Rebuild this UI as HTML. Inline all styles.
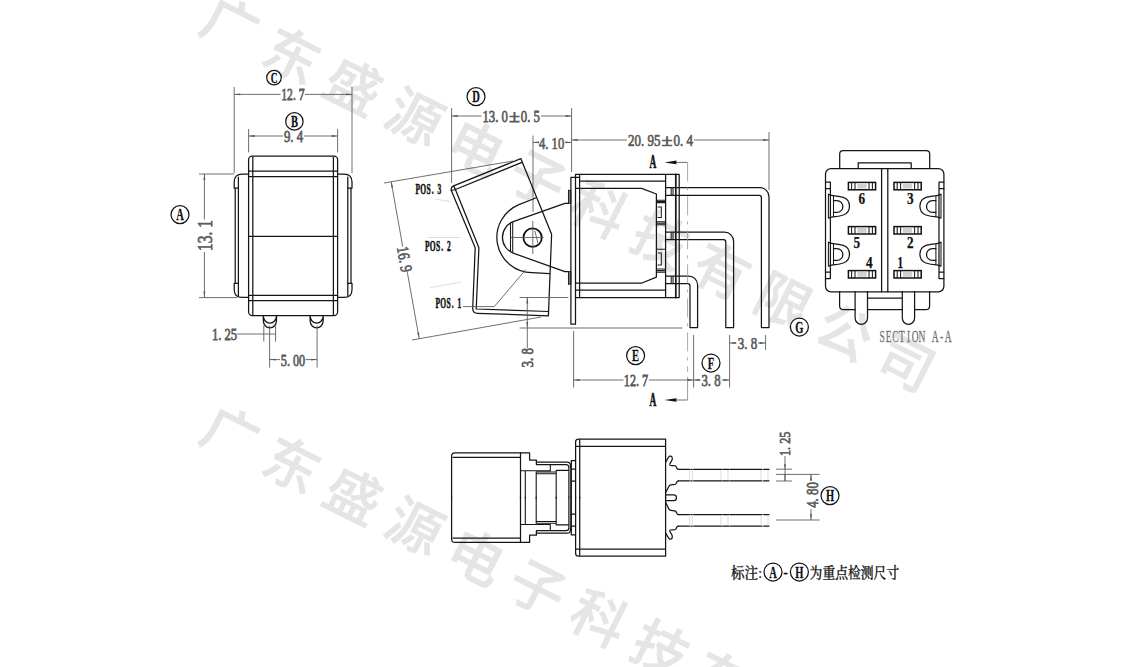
<!DOCTYPE html>
<html lang="zh">
<head>
<meta charset="utf-8">
<title>Rocker switch drawing</title>
<style>
html,body{margin:0;padding:0;background:#fff;}
body{width:1135px;height:667px;overflow:hidden;position:relative;}
svg{position:absolute;left:0;top:0;display:block;}
.o{stroke:#151515;stroke-width:1.25;fill:none;stroke-linecap:round;stroke-linejoin:round;}
.o2{stroke:#1a1a1a;stroke-width:1.05;fill:none;}
.d{stroke:#555;stroke-width:.85;fill:none;}
.f{stroke:#d4d4d4;stroke-width:.8;fill:none;}
.t{font-family:"Liberation Serif","Noto Serif CJK SC",serif;fill:#5c5c5c;stroke:#5c5c5c;stroke-width:.75;}
.b{font-family:"Liberation Serif","Noto Serif CJK SC",serif;fill:#111;font-weight:bold;stroke:#111;stroke-width:.55;}
.c{stroke:#151515;stroke-width:1.25;fill:#fff;}
.cl{font-family:"Liberation Serif",serif;fill:#111;font-weight:bold;text-anchor:middle;stroke:#111;stroke-width:.3;}
.wm{font-family:"Noto Sans CJK SC","WenQuanYi Zen Hei",sans-serif;fill:#e5e5e5;font-size:55px;font-weight:500;letter-spacing:13.7px;stroke:#e5e5e5;stroke-width:.6;}
.ah{fill:#555;stroke:none;}
.n{font-family:"Liberation Serif","Noto Serif CJK SC",serif;fill:#111;font-weight:700;stroke:#111;stroke-width:.25;}
</style>
</head>
<body>
<svg width="1135" height="667" viewBox="0 0 1135 667">
<rect width="1135" height="667" fill="#fff"/>
<g id="wm">
<text class="wm" transform="translate(196.8,30.8) rotate(26.57)">广东盛源电子科技有限公司</text>
<text class="wm" transform="translate(196.8,440) rotate(26.57)">广东盛源电子科技有限公司</text>
</g>

<g id="v1">
<rect class="o" x="248.6" y="156.1" width="89" height="159.4" rx="3.5" ry="3.5"/>
<path class="o" d="M252.8,157 V315 M333.4,157 V315 M248.6,171.2 H337.6 M248.6,176.6 H337.6 M248.6,236.4 H337.6 M248.6,295.4 H337.6 M248.6,300.7 H337.6"/>
<g><path class="o" d="M248.6,174 H242.2 Q234.2,174 234.2,182 V188 H238.4"/>
<path class="o" d="M235.2,188 V283.3 M238.4,177 V296"/>
<path class="o" d="M238.4,283.3 H234.2 V289.4 Q234.2,297.4 242.2,297.4 H248.6"/></g>
<g transform="translate(586.2,0) scale(-1,1)"><path class="o" d="M248.6,174 H242.2 Q234.2,174 234.2,182 V188 H238.4"/>
<path class="o" d="M235.2,188 V283.3 M238.4,177 V296"/>
<path class="o" d="M238.4,283.3 H234.2 V289.4 Q234.2,297.4 242.2,297.4 H248.6"/></g>
<path class="o" d="M263.3,315.6 V320.6 A6.6,7.3 0 0 0 276.5,320.6 V315.6 M263.3,315.8 A6.6,7.3 0 0 0 276.5,315.8"/>
<path class="o" d="M310.1,315.6 V320.6 A6.55,7.3 0 0 0 323.2,320.6 V315.6 M310.1,315.8 A6.55,7.3 0 0 0 323.2,315.8"/>
<path class="d" d="M234.2,87 V173 M352,87 V173 M248.6,129 V152.4 M337.6,129 V152.4"/>
<path class="d" d="M234.2,94.4 H280.5 M305,94.4 H352"/>
<path class="ah" d="M234.20,94.40 L240.20,93.45 L240.20,95.35 Z"/>
<path class="ah" d="M352.00,94.40 L346.00,95.35 L346.00,93.45 Z"/>
<g transform="translate(281.20,100.20)">
<text class="t" font-size="16" transform="scale(0.7312,1)" x="0.00 8.00 16.00 24.00">12.7</text>
</g>
<path class="d" d="M248.6,136 H283 M304,136 H337.6"/>
<path class="ah" d="M248.60,136.00 L254.60,135.05 L254.60,136.95 Z"/>
<path class="ah" d="M337.60,136.00 L331.60,136.95 L331.60,135.05 Z"/>
<g transform="translate(283.90,142.30)">
<text class="t" font-size="16" transform="scale(0.8000,1)" x="0.00 8.00 16.00">9.4</text>
</g>
<path class="d" d="M199,174 H234 M199,297.6 H237"/>
<path class="d" d="M204.4,174 V219.5 M204.4,252 V297.6"/>
<path class="ah" d="M204.40,174.00 L205.35,180.00 L203.45,180.00 Z"/>
<path class="ah" d="M204.40,297.60 L203.45,291.60 L205.35,291.60 Z"/>
<g transform="translate(212.30,235.60) rotate(-90) translate(-15.50,0)">
<text class="t" font-size="22" transform="scale(0.7045,1)" x="0.00 11.00 22.00 33.00">13.1</text>
</g>
<path class="d" d="M263.8,325.6 V341.6 M275.6,325.6 V341.6 M237,334 H275.6"/>
<g transform="translate(211.90,340.00)">
<text class="t" font-size="16" transform="scale(0.7875,1)" x="0.00 8.00 16.00 24.00">1.25</text>
</g>
<path class="d" d="M269.6,325.6 V367.6 M317.1,325.6 V367.6"/>
<path class="d" d="M269.6,359.6 H280 M305.5,359.6 H317.1"/>
<path class="ah" d="M269.60,359.60 L275.60,358.65 L275.60,360.55 Z"/>
<path class="ah" d="M317.10,359.60 L311.10,360.55 L311.10,358.65 Z"/>
<g transform="translate(280.80,365.70)">
<text class="t" font-size="16" transform="scale(0.7625,1)" x="0.00 8.00 16.00 24.00">5.00</text>
</g>
<circle class="c" cx="274" cy="77.6" r="7.3"/>
<text class="cl" font-size="15.5" transform="translate(274,82.7) scale(.6,1)">C</text>
<circle class="c" cx="294.4" cy="121.4" r="8.7"/>
<text class="cl" font-size="17.5" transform="translate(294.4,127.1) scale(.6,1)">B</text>
<circle class="c" cx="180" cy="214.6" r="9"/>
<text class="cl" font-size="17.5" transform="translate(180,220.3) scale(.6,1)">A</text>
</g>
<g id="v2">
<path class="d" d="M451.6,108 V183 M571.6,108 V172 M533,135.6 V212 M769,132 V190"/>
<path class="d" d="M451.6,116 H481.5 M541,116 H571.6"/>
<path class="ah" d="M451.60,116.00 L457.60,115.05 L457.60,116.95 Z"/>
<path class="ah" d="M571.60,116.00 L565.60,116.95 L565.60,115.05 Z"/>
<g transform="translate(482.40,122.30)">
<text class="t" font-size="17" transform="scale(0.7529,1)" x="0.00 8.50 17.00 25.50 51.00 59.50 68.00">13.00.5</text>
<text class="t" font-size="17" transform="translate(26.56,0) scale(1.1658,1)">±</text>
</g>
<path class="d" d="M533,142.4 H538.5 M565,142.4 H571.6"/>
<path class="ah" d="M533.00,142.40 L539.00,141.45 L539.00,143.35 Z"/>
<path class="ah" d="M571.60,142.40 L565.60,143.35 L565.60,141.45 Z"/>
<g transform="translate(539.00,149.40)">
<text class="t" font-size="17" transform="scale(0.7412,1)" x="0.00 8.50 17.00 25.50">4.10</text>
</g>
<path class="d" d="M571.6,140 H627 M694,140 H769"/>
<path class="ah" d="M571.60,140.00 L577.60,139.05 L577.60,140.95 Z"/>
<path class="ah" d="M769.00,140.00 L763.00,140.95 L763.00,139.05 Z"/>
<g transform="translate(628.00,146.20)">
<text class="t" font-size="17" transform="scale(0.7647,1)" x="0.00 8.50 17.00 25.50 34.00 59.50 68.00 76.50">20.950.4</text>
<text class="t" font-size="17" transform="translate(33.48,0) scale(1.1840,1)">±</text>
</g>
<path class="d" d="M384,183 L513,161 M412,340 L541,317"/>
<path class="d" d="M391.2,181.8 L402.7,246.5"/>
<path class="ah" d="M391.20,181.80 L393.20,187.54 L391.33,187.87 Z"/>
<path class="d" d="M407.3,272.2 L419.2,338.6"/>
<path class="ah" d="M419.20,338.60 L417.22,332.86 L419.09,332.53 Z"/>
<g transform="translate(399.20,260.20) rotate(80) translate(-12.80,0)">
<text class="t" font-size="16.5" transform="scale(0.7758,1)" x="0.00 8.25 16.50 24.75">16.9</text>
</g>
<path class="o" d="M451.3,190.5 Q450.6,187.2 453.6,185.9 L520.8,158.6 L551.6,234.3 L548.4,315.9 L477.4,313.3 Q472.9,313.1 472.7,308.7 L475.2,247.8 Z"/>
<path class="o" d="M455.4,189.5 L522,162.3 M451.3,190.5 L455.4,189.5 L453.6,185.9 M455.4,189.5 L478.9,247.8 L476.2,309 L548.5,311.5"/>
<path class="o" d="M535.7,198 L518.9,204.7 A35.3,35.3 0 0 0 532,272.7 L549.4,273.7"/>
<path class="o" d="M568.6,190.3 V203.3 H564.9 L513.9,221.4 A16.9,16.9 0 0 0 513.9,253.4 L564.9,271.6 H568.6 V284.2"/>
<path d="M568.6,190.3 H570.9 V203.3 H568.6 Z M568.6,271.6 H570.9 V284.2 H568.6 Z" fill="#888" stroke="#151515" stroke-width=".8"/>
<path class="o2" d="M510.5,223 V251.8 M512.7,221.9 V252.9"/>
<circle cx="532.6" cy="237.6" r="9.2" fill="none" stroke="#111" stroke-width="1.8"/>
<path class="d" d="M510.5,237.5 H543.7 M532.8,221 V254 M534.8,230.7 L537.9,243"/>
<text class="b" font-size="15" text-anchor="middle" transform="translate(415.10,193.50) scale(0.500,1)" x="5.40 16.20 27.00 35.42 48.60">POS.3</text>
<text class="b" font-size="15" text-anchor="middle" transform="translate(424.50,250.90) scale(0.500,1)" x="5.40 16.20 27.00 35.42 48.60">POS.2</text>
<text class="b" font-size="15" text-anchor="middle" transform="translate(435.10,307.90) scale(0.500,1)" x="5.40 16.20 27.00 35.42 48.60">POS.1</text>
<path class="f" d="M435,199 L450,201.6 M428,237.5 H460 M430,287.6 L461,282.2"/>
<path class="d" d="M463,306.6 H494.3 L525.7,269.7"/>
<path class="d" d="M519.6,297.5 H568.3 M519.6,328 H682.4"/>
<path class="d" d="M527.3,297.5 V328"/>
<path class="ah" d="M527.30,297.50 L528.25,303.50 L526.35,303.50 Z"/>
<path class="ah" d="M527.30,328.00 L526.35,322.00 L528.25,322.00 Z"/>
<path class="d" d="M527.3,328 V348.2"/>
<g transform="translate(533.40,357.80) rotate(-90) translate(-9.75,0)">
<text class="t" font-size="16.5" transform="scale(0.7879,1)" x="0.00 8.25 16.50">3.8</text>
</g>
<path class="o" d="M579.7,177.3 H570.9 V324.2 H575.5 V174.3 H679.2 V297.6 H575.5"/>
<path class="o" d="M579.6,174.3 V297.6 M579.6,181 H665.6 M575.5,188.4 H641.6 L656.4,194 V277.2 L642,283 H575.5 M575.5,290.2 H665.6"/>
<path class="o" d="M665.6,174.3 V297.6"/>
<path class="o" stroke-width="1.7" d="M675.8,174.3 V297.6" style="stroke-width:1.7"/>
<path class="o" d="M665.6,187.7 H760 A9,9 0 0 1 769,196.7 V327.6 H761.4 V197.7 A2.3,2.3 0 0 0 759.1,195.4 H665.6"/>
<path class="o" d="M665.6,232.2 H724.6 A9,9 0 0 1 733.6,241.2 V327.6 H725.8 V242 A2.3,2.3 0 0 0 723.5,239.7 H665.6"/>
<path class="o" d="M665.6,276 H688.6 A9,9 0 0 1 697.6,285 V327.6 H690 V286 A2.3,2.3 0 0 0 687.7,283.7 H665.6"/>
<path class="o2" d="M671.2,187.7 V195.2 M673,187.7 V195.2 M671.2,232.2 V239.6 M673,232.2 V239.6 M671.2,276 V283.6 M673,276 V283.6"/>
<path class="o2" d="M656.4,200.2 H665.6 M656.4,201.4 H665.6 M656.4,202.6 H665.6 M656.4,221.8 H665.6 M656.4,223.3 H665.6 M656.4,224.8 H665.6 M657.6,207 H661.3 V217.4 H657.6"/>
<path class="o2" d="M656.4,249.2 H665.6 M656.4,269 H665.6 M656.4,270.6 H665.6 M656.4,272.2 H665.6 M657.6,253 H661.3 V265 H657.6"/>
<path class="d" d="M676,162.4 H687.6 M676,400 H687.6"/>
<path class="d" d="M687.6,162.4 V372" stroke-dasharray="19 6 3 6" style="stroke:#999"/>
<path class="d" d="M687.6,377 V400" style="stroke:#888"/>
<path d="M664.4,162.4 L676.4,160.6 V164.2 Z M664.4,400 L676.4,398.2 V401.8 Z" fill="#111"/>
<text class="b" font-size="18" x="649.40" y="168.40" textLength="6.80" lengthAdjust="spacingAndGlyphs">A</text>
<text class="b" font-size="18" x="649.40" y="406.00" textLength="6.80" lengthAdjust="spacingAndGlyphs">A</text>
<path class="d" d="M573.6,331 V387.6 M693.6,335 V387.6 M729.6,335 V387.6 M765.6,335 V350"/>
<path class="d" d="M573.6,380 H623.5 M649,380 H693.6"/>
<path class="ah" d="M573.60,380.00 L579.60,379.05 L579.60,380.95 Z"/>
<path class="ah" d="M693.60,380.00 L687.60,380.95 L687.60,379.05 Z"/>
<g transform="translate(623.80,386.00)">
<text class="t" font-size="17" transform="scale(0.7176,1)" x="0.00 8.50 17.00 25.50">12.7</text>
</g>
<path class="d" d="M693.6,380 H700.5 M721.5,380 H729.6"/>
<path class="ah" d="M693.60,380.00 L699.60,379.05 L699.60,380.95 Z"/>
<path class="ah" d="M729.60,380.00 L723.60,380.95 L723.60,379.05 Z"/>
<g transform="translate(701.40,386.00)">
<text class="t" font-size="17" transform="scale(0.7529,1)" x="0.00 8.50 17.00">3.8</text>
</g>
<path class="d" d="M729.6,343 H736.5 M758,343 H765.6"/>
<path class="ah" d="M729.60,343.00 L735.60,342.05 L735.60,343.95 Z"/>
<path class="ah" d="M765.60,343.00 L759.60,343.95 L759.60,342.05 Z"/>
<g transform="translate(737.65,349.00)">
<text class="t" font-size="17" transform="scale(0.7647,1)" x="0.00 8.50 17.00">3.8</text>
</g>
<circle class="c" cx="476" cy="96.6" r="9"/>
<text class="cl" font-size="17.5" transform="translate(476,102.3) scale(.6,1)">D</text>
<circle class="c" cx="635.6" cy="355.6" r="9"/>
<text class="cl" font-size="17.5" transform="translate(635.6,361.3) scale(.6,1)">E</text>
<circle class="c" cx="711" cy="363" r="9"/>
<text class="cl" font-size="17.5" transform="translate(711,368.7) scale(.6,1)">F</text>
<circle class="c" cx="799.4" cy="327" r="9"/>
<text class="cl" font-size="17.5" transform="translate(799.4,332.7) scale(.6,1)">G</text>
</g>
<g id="v3">
<path class="o" d="M839.7,168.6 V154 Q839.7,150.5 843.2,150.5 H926.2 Q929.7,150.5 929.7,154 V168.6 M858.2,168.6 V162.8 H911.2 V168.6"/>
<rect class="o" x="825.5" y="168.6" width="118.4" height="123.2" rx="5.5" ry="5.5"/>
<path class="o" d="M881.6,168.6 V291.8 M887.8,168.6 V291.8"/>
<path class="o" d="M839.6,291.7 V305.7 Q839.6,309.7 843.6,309.7 H855.1 M867.5,309.7 H902.3 M914.6,309.7 H925.6 Q929.6,309.7 929.6,305.7 V291.7"/>
<path class="o" d="M855.1,291.7 V318.1 A6.2,6.2 0 0 0 867.5,318.1 V291.7 M902.3,291.7 V318.1 A6.15,6.2 0 0 0 914.6,318.1 V291.7 M867.5,298 H902.3"/>
<g><path class="o" d="M830.4,182 V278.6 M825.5,182 H830.4 M825.5,188.7 H830.4 M825.5,272 H830.4 M825.5,278.6 H830.4"/>
<path class="o2" d="M828.4,194 V218 M833.5,195.6 V216.8 M828.4,242 V266 M833.5,243.6 V264.8"/>
<path class="o" d="M828.6,194.2 Q830,195.2 833,195.6 Q839,196 843.4,197.4 A9.4,9.4 0 0 1 843.4,215 Q839,216.4 833,216.8 Q830,217.2 828.6,218.2 M833.5,200.6 H837 A5.9,5.9 0 0 1 837,212.4 H833.5"/>
<path class="o" d="M828.6,242.2 Q830,243.2 833,243.6 Q839,244 843.4,245.4 A9.4,9.4 0 0 1 843.4,263 Q839,264.4 833,264.8 Q830,265.2 828.6,266.2 M833.5,248.6 H837 A5.9,5.9 0 0 1 837,260.4 H833.5"/>
</g>
<g transform="translate(1769.4,0) scale(-1,1)"><path class="o" d="M830.4,182 V278.6 M825.5,182 H830.4 M825.5,188.7 H830.4 M825.5,272 H830.4 M825.5,278.6 H830.4"/>
<path class="o2" d="M828.4,194 V218 M833.5,195.6 V216.8 M828.4,242 V266 M833.5,243.6 V264.8"/>
<path class="o" d="M828.6,194.2 Q830,195.2 833,195.6 Q839,196 843.4,197.4 A9.4,9.4 0 0 1 843.4,215 Q839,216.4 833,216.8 Q830,217.2 828.6,218.2 M833.5,200.6 H837 A5.9,5.9 0 0 1 837,212.4 H833.5"/>
<path class="o" d="M828.6,242.2 Q830,243.2 833,243.6 Q839,244 843.4,245.4 A9.4,9.4 0 0 1 843.4,263 Q839,264.4 833,264.8 Q830,265.2 828.6,266.2 M833.5,248.6 H837 A5.9,5.9 0 0 1 837,260.4 H833.5"/>
</g>
<rect x="848.4" y="182.4" width="27.2" height="7.4" fill="#fff" stroke="#111" stroke-width="1.5"/>
<rect x="857.4" y="183.6" width="9.2" height="5" fill="#d0d0d0" stroke="none"/>
<path class="o2" d="M851.6,182.4 v7.4 M855,182.4 v7.4 M869,182.4 v7.4 M872.4,182.4 v7.4"/>
<rect x="894" y="182.4" width="27.2" height="7.4" fill="#fff" stroke="#111" stroke-width="1.5"/>
<rect x="903" y="183.6" width="9.2" height="5" fill="#d0d0d0" stroke="none"/>
<path class="o2" d="M897.2,182.4 v7.4 M900.6,182.4 v7.4 M914.6,182.4 v7.4 M918,182.4 v7.4"/>
<rect x="848.4" y="226.6" width="27.2" height="7.4" fill="#fff" stroke="#111" stroke-width="1.5"/>
<rect x="857.4" y="227.8" width="9.2" height="5" fill="#d0d0d0" stroke="none"/>
<path class="o2" d="M851.6,226.6 v7.4 M855,226.6 v7.4 M869,226.6 v7.4 M872.4,226.6 v7.4"/>
<rect x="894" y="226.6" width="27.2" height="7.4" fill="#fff" stroke="#111" stroke-width="1.5"/>
<rect x="903" y="227.8" width="9.2" height="5" fill="#d0d0d0" stroke="none"/>
<path class="o2" d="M897.2,226.6 v7.4 M900.6,226.6 v7.4 M914.6,226.6 v7.4 M918,226.6 v7.4"/>
<rect x="848.4" y="270.6" width="27.2" height="7.4" fill="#fff" stroke="#111" stroke-width="1.5"/>
<rect x="857.4" y="271.8" width="9.2" height="5" fill="#d0d0d0" stroke="none"/>
<path class="o2" d="M851.6,270.6 v7.4 M855,270.6 v7.4 M869,270.6 v7.4 M872.4,270.6 v7.4"/>
<rect x="894" y="270.6" width="27.2" height="7.4" fill="#fff" stroke="#111" stroke-width="1.5"/>
<rect x="903" y="271.8" width="9.2" height="5" fill="#d0d0d0" stroke="none"/>
<path class="o2" d="M897.2,270.6 v7.4 M900.6,270.6 v7.4 M914.6,270.6 v7.4 M918,270.6 v7.4"/>
<text class="n" font-size="17" x="858.4" y="204" textLength="6.6" lengthAdjust="spacingAndGlyphs">6</text>
<text class="n" font-size="17" x="907" y="204" textLength="6.6" lengthAdjust="spacingAndGlyphs">3</text>
<text class="n" font-size="17" x="853.6" y="247.6" textLength="6.6" lengthAdjust="spacingAndGlyphs">5</text>
<text class="n" font-size="17" x="907" y="247.6" textLength="6.6" lengthAdjust="spacingAndGlyphs">2</text>
<text class="n" font-size="17" x="866" y="268" textLength="6.6" lengthAdjust="spacingAndGlyphs">4</text>
<text class="n" font-size="17" x="897.4" y="268" textLength="5.6" lengthAdjust="spacingAndGlyphs">1</text>
<text class="t" font-size="17" text-anchor="middle" transform="translate(878.80,342.30) scale(0.560,1)" x="5.91 17.73 29.55 41.38 53.20 65.02 76.84 88.66 100.48 112.30 124.12" style="stroke-width:.25;fill:#707070;stroke:#707070">SECTION A-A</text>
</g>
<g id="v4">
<g><path class="o" d="M451.6,498.2 V456.4 Q451.6,452.9 455.1,452.9 H529.6 V460.1 H536.4 V462.1 H567 Q570.5,462.1 570.5,465.6 V498.2"/>
<path class="o" d="M453,457.3 H520.5 M520.5,452.9 V498.2 M536.4,462.1 V464.6 H566 Q568.9,464.6 568.9,467.5 V498.2"/>
<path class="o" style="stroke-width:1.1" d="M520.5,470.8 H550.3 V464.9 M556.2,498.2 V470.4 H568.8 M525.3,470.8 V498.2 M536.2,472 V498.2 M536.2,472 H556.2 M536.2,473.8 H556.2"/>
<path d="M568.9,467.5 H570.5 V498.2 H568.9 Z" fill="#888"/>
<path class="o" d="M571.3,498.2 V460.5 H575.6 M571.3,469.2 H575.6 M571.3,481.1 H575.6"/>
<path class="o" d="M575.6,498.2 V442 Q575.6,439.1 578.5,439.1 H665.6 V498.2 M579.7,440 V498.2 M576.5,446.3 H665.6"/>
<path class="o" d="M665.6,462.2 C667,460 668.6,456.4 669.8,456.2 C672,455.8 672.6,457.6 672.2,459.4 C671.6,462 669.2,463.4 669.8,465 C670.4,466 674,465.2 675.4,465.8 C677,466.6 676,469.3 678.4,469.3"/>
<path class="o" d="M678.4,469.3 H769 M678.4,480.8 H769" stroke-dasharray="11 1.4 1.4 1.4 28 1.2 6 1.2 32 1.6 8 0"/>
<path class="o" d="M678.4,480.8 C676.2,480.8 677,483.4 675.4,484.2 C674,484.8 671,484.4 669.8,485.2 C668.4,486.4 667.4,490 665.6,492.6"/>
<path class="f" d="M689.6,470 V480 M692.4,470 V480 M721,470 V480 M728,470 V480 M761,470 V480 M768,470 V480"/>
</g>
<g transform="translate(0,995.3) scale(1,-1)"><path class="o" d="M451.6,498.2 V456.4 Q451.6,452.9 455.1,452.9 H529.6 V460.1 H536.4 V462.1 H567 Q570.5,462.1 570.5,465.6 V498.2"/>
<path class="o" d="M453,457.3 H520.5 M520.5,452.9 V498.2 M536.4,462.1 V464.6 H566 Q568.9,464.6 568.9,467.5 V498.2"/>
<path class="o" style="stroke-width:1.1" d="M520.5,470.8 H550.3 V464.9 M556.2,498.2 V470.4 H568.8 M525.3,470.8 V498.2 M536.2,472 V498.2 M536.2,472 H556.2 M536.2,473.8 H556.2"/>
<path d="M568.9,467.5 H570.5 V498.2 H568.9 Z" fill="#888"/>
<path class="o" d="M571.3,498.2 V460.5 H575.6 M571.3,469.2 H575.6 M571.3,481.1 H575.6"/>
<path class="o" d="M575.6,498.2 V442 Q575.6,439.1 578.5,439.1 H665.6 V498.2 M579.7,440 V498.2 M576.5,446.3 H665.6"/>
<path class="o" d="M665.6,462.2 C667,460 668.6,456.4 669.8,456.2 C672,455.8 672.6,457.6 672.2,459.4 C671.6,462 669.2,463.4 669.8,465 C670.4,466 674,465.2 675.4,465.8 C677,466.6 676,469.3 678.4,469.3"/>
<path class="o" d="M678.4,469.3 H769 M678.4,480.8 H769" stroke-dasharray="11 1.4 1.4 1.4 28 1.2 6 1.2 32 1.6 8 0"/>
<path class="o" d="M678.4,480.8 C676.2,480.8 677,483.4 675.4,484.2 C674,484.8 671,484.4 669.8,485.2 C668.4,486.4 667.4,490 665.6,492.6"/>
<path class="f" d="M689.6,470 V480 M692.4,470 V480 M721,470 V480 M728,470 V480 M761,470 V480 M768,470 V480"/>
</g>
<path class="o" d="M665.6,494.8 H673.6 A2.9,2.9 0 0 1 673.6,500.6 H665.6"/>
<path class="d" d="M776,469.2 H792 M776,481 H792 M776,474.4 H819.6 M776,520 H819.6"/>
<path class="d" d="M785,456 V469.2"/>
<path class="ah" d="M785.00,469.20 L784.05,464.20 L785.95,464.20 Z"/>
<path class="d" d="M785,481 V474" />
<path class="d" d="M785,469.2 V481"/>
<g transform="translate(789.90,443.80) rotate(-90) translate(-12.20,0)">
<text class="t" font-size="14.5" transform="scale(0.8414,1)" x="0.00 7.25 14.50 21.75">1.25</text>
</g>
<path class="d" d="M811,474.4 V481 M811,509 V520"/>
<path class="ah" d="M811.00,474.40 L811.95,480.40 L810.05,480.40 Z"/>
<path class="ah" d="M811.00,520.00 L810.05,514.00 L811.95,514.00 Z"/>
<g transform="translate(817.50,495.00) rotate(-90) translate(-12.80,0)">
<text class="t" font-size="16" transform="scale(0.8000,1)" x="0.00 8.00 16.00 24.00">4.80</text>
</g>
<circle class="c" cx="830" cy="495.6" r="9"/>
<text class="cl" font-size="17.5" transform="translate(830,501.3) scale(.6,1)">H</text>
</g>
<g id="notes">
<text class="n" font-size="14.5" font-weight="500" x="731" y="577.5" textLength="31" lengthAdjust="spacingAndGlyphs" style="font-weight:500">标注:</text>
<circle class="c" cx="773" cy="572" r="9"/>
<text class="cl" font-size="17.5" transform="translate(773,577.7) scale(.6,1)">A</text>
<text class="n" font-size="14" x="783.2" y="576.5" style="font-weight:700">-</text>
<circle class="c" cx="799.4" cy="572" r="9"/>
<text class="cl" font-size="17.5" transform="translate(799.4,577.7) scale(.6,1)">H</text>
<text class="n" font-size="14.5" x="809.6" y="577.5" textLength="89.6" lengthAdjust="spacingAndGlyphs" style="font-weight:500">为重点检测尺寸</text>
</g>
</svg>
</body>
</html>
